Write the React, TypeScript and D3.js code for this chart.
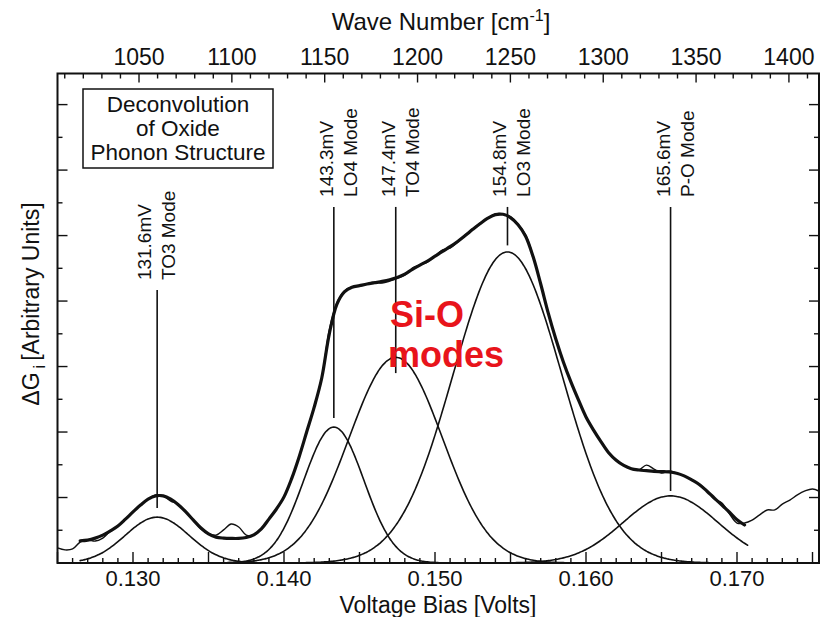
import React from 'react';
import * as d3 from 'd3';

// Measured tunneling conductance, sampled every 0.5 mV starting at 125.0 mV
const measuredStartMv = 125.0;
const sampleStepMv = 0.5;
const measuredG = [
  0.46, 0.40, 0.43, 0.64, 0.70, 0.67, 0.76, 0.98, 1.13, 1.34,
  1.56, 1.77, 1.95, 2.08, 2.05, 1.89, 1.80, 1.56, 1.31, 1.04,
  0.89, 0.85, 1.01, 1.19, 1.10, 0.85, 0.85, 1.04, 1.34, 1.65,
  2.02, 2.57, 3.24, 4.00, 4.76, 5.65, 7.12, 7.94, 8.31, 8.43,
  8.46, 8.52, 8.58, 8.55, 8.61, 8.70, 8.79, 9.01, 9.10, 9.19,
  9.37, 9.56, 9.62, 9.80, 10.02, 10.20, 10.38, 10.53, 10.66, 10.66,
  10.57, 10.35, 10.02, 9.37, 8.52, 7.63, 6.84, 6.14, 5.53, 4.98,
  4.46, 4.06, 3.70, 3.36, 3.15, 2.99, 2.87, 2.84, 2.99, 2.87,
  2.75, 2.81, 2.75, 2.66, 2.53, 2.41, 2.20, 1.95, 1.83, 1.50,
  1.22, 1.22, 1.31, 1.47, 1.62, 1.62, 1.80, 1.92, 2.08, 2.20,
  2.26, 2.18,
];

// Overall fitted envelope, 126.5 mV to 170.5 mV on the same 0.5 mV grid
const envelopeStartMv = 126.5;
const envelopeG = [
  0.68, 0.70, 0.76, 0.85, 0.98, 1.13, 1.34, 1.56, 1.77, 1.95,
  2.05, 2.05, 1.95, 1.78, 1.56, 1.31, 1.07, 0.89, 0.79, 0.76,
  0.75, 0.75, 0.78, 0.86, 1.04, 1.34, 1.65, 2.02, 2.57, 3.24,
  4.00, 4.76, 5.65, 7.00, 7.90, 8.28, 8.42, 8.47, 8.52, 8.56,
  8.60, 8.65, 8.72, 8.82, 8.97, 9.10, 9.22, 9.37, 9.52, 9.66,
  9.82, 10.00, 10.19, 10.37, 10.53, 10.64, 10.65, 10.55, 10.33, 9.98,
  9.35, 8.52, 7.63, 6.84, 6.14, 5.53, 4.98, 4.46, 4.06, 3.70,
  3.37, 3.14, 2.98, 2.88, 2.84, 2.82, 2.80, 2.79, 2.78, 2.74,
  2.66, 2.54, 2.40, 2.20, 1.98, 1.77, 1.55, 1.32, 1.16,
];

// Deconvolved phonon modes (Gaussian components)
const modeCentersMv = [131.6, 143.3, 147.4, 154.8, 165.6];
const modeNames = ['TO3 Mode', 'LO4 Mode', 'TO4 Mode', 'LO3 Mode', 'P-O Mode'];
const modeHeights = [1.40, 4.15, 6.28, 9.50, 2.05];
const modeSigmasMv = [2.1, 2.0, 3.1, 3.6, 3.13];
const modeRangeMv = [126.5, 170.7];

// Axis ticks
const voltTickLabels = [0.130, 0.140, 0.150, 0.160, 0.170];
const waveTickLabels = [1050, 1100, 1150, 1200, 1250, 1300, 1350, 1400];

const W = 823;
const H = 617;
const P = { left: 57.5, right: 819, top: 73.5, bottom: 563 };
const INK = '#111';
const FONT = "'Liberation Sans', Arial, Helvetica, sans-serif";

export default function App() {
  const x = d3.scaleLinear().domain([0.125, 0.17543]).range([P.left, P.right]);
  const xTop = d3.scaleLinear().domain([1006.1, 1416.2]).range([P.left, P.right]);
  const y = d3.scaleLinear().domain([0, 14.95]).range([P.bottom, P.top]);

  const line = d3
    .line<[number, number]>()
    .x((d) => x(d[0] / 1000))
    .y((d) => y(d[1]))
    .curve(d3.curveCatmullRom.alpha(0.5));

  const measuredPts: [number, number][] = measuredG.map((g, i) => [measuredStartMv + i * sampleStepMv, g]);
  const envelopePts: [number, number][] = envelopeG.map((g, i) => [envelopeStartMv + i * sampleStepMv, g]);

  const grid = d3.range(modeRangeMv[0], modeRangeMv[1] + 0.001, 0.1);
  const modePaths = modeCentersMv.map((c, k) =>
    line(
      grid.map((v) => [v, modeHeights[k] * Math.exp(-((v - c) ** 2) / (2 * modeSigmasMv[k] ** 2))] as [number, number])
    )
  );

  // Annotation layout: text bottom and leader end (in G units), label nudge in px
  const labelBottomG = [8.64, 11.18, 11.18, 11.18, 11.18];
  const leaderEndG = [1.68, 4.43, 5.8, 9.7, 2.2];
  const labelNudge = [-5, 0, 0, 0, 0];

  const bottomTicks = d3.range(125, 176, 1).map((m) => m / 1000).filter((v) => v >= 0.125 && v <= 0.1754);
  const topTicks = d3.range(1010, 1420, 10).filter((w) => w <= 1416);
  const sideTicks = d3.range(1, 15);

  return (
    <svg
      width={W}
      height={H}
      style={{ position: 'absolute', left: 0, top: 0, background: '#fff' }}
      fontFamily={FONT}
    >
      <defs>
        <clipPath id="plotClip">
          <rect x={P.left} y={P.top} width={P.right - P.left} height={P.bottom - P.top} />
        </clipPath>
      </defs>
      <rect width={W} height={H} fill="#fff" />

      {/* curves */}
      <g clipPath="url(#plotClip)" fill="none" stroke={INK} strokeLinejoin="round" strokeLinecap="round">
        {modePaths.map((d, k) => (
          <path key={k} d={d || ''} strokeWidth={1.6} />
        ))}
        <path d={line(measuredPts) || ''} strokeWidth={1.4} />
        <path d={line(envelopePts) || ''} strokeWidth={3.2} />
      </g>

      {/* frame */}
      <rect
        x={P.left}
        y={P.top}
        width={P.right - P.left}
        height={P.bottom - P.top}
        fill="none"
        stroke={INK}
        strokeWidth={2}
      />

      {/* bottom ticks */}
      {bottomTicks.map((v, i) => {
        const major = Math.round(v * 1000) % 5 === 0;
        return (
          <line key={'b' + i} x1={x(v)} x2={x(v)} y1={P.bottom} y2={P.bottom - (major ? 11 : 5)} stroke={INK} strokeWidth={1.4} />
        );
      })}
      {voltTickLabels.map((v) => (
        <text key={'bl' + v} x={x(v)} y={586} textAnchor="middle" fontSize={22} fill={INK}>
          {v.toFixed(3)}
        </text>
      ))}
      <text x={438} y={613} textAnchor="middle" fontSize={23} fill={INK}>
        Voltage Bias [Volts]
      </text>

      {/* top ticks */}
      {topTicks.map((w) => {
        const major = w % 50 === 0;
        return (
          <line key={'t' + w} x1={xTop(w)} x2={xTop(w)} y1={P.top} y2={P.top + (major ? 9 : 5)} stroke={INK} strokeWidth={1.4} />
        );
      })}
      {waveTickLabels.map((w) => (
        <text key={'tl' + w} x={xTop(w)} y={65} textAnchor="middle" fontSize={23} fill={INK}>
          {w}
        </text>
      ))}
      <text x={441} y={30} textAnchor="middle" fontSize={24} fill={INK}>
        Wave Number [cm
        <tspan dy={-9} fontSize={16}>-1</tspan>
        <tspan dy={9}>]</tspan>
      </text>

      {/* side ticks */}
      {sideTicks.map((g) => {
        const len = g % 2 === 0 ? 10 : 5;
        return (
          <g key={'s' + g} stroke={INK} strokeWidth={1.4}>
            <line x1={P.left} x2={P.left + len} y1={y(g)} y2={y(g)} />
            <line x1={P.right} x2={P.right - len} y1={y(g)} y2={y(g)} />
          </g>
        );
      })}
      <text transform="translate(39,304) rotate(-90)" textAnchor="middle" fontSize={23} fill={INK}>
        ΔG
        <tspan dy={6} dx={4} fontSize={16}>i</tspan>
        <tspan dy={-6} dx={4}>[Arbitrary Units]</tspan>
      </text>

      {/* title box */}
      <rect x={83} y={89} width={190} height={79} fill="#fff" stroke={INK} strokeWidth={1.5} />
      {['Deconvolution', 'of Oxide', 'Phonon Structure'].map((t, i) => (
        <text key={t} x={178} y={112 + i * 24} textAnchor="middle" fontSize={22.5} fill={INK}>
          {t}
        </text>
      ))}

      {/* mode annotations */}
      {modeCentersMv.map((c, k) => {
        const px = x(c / 1000);
        const tx = px + labelNudge[k];
        const yb = y(labelBottomG[k]);
        return (
          <g key={'m' + k}>
            <line x1={px} x2={px} y1={yb + 10} y2={y(leaderEndG[k])} stroke={INK} strokeWidth={1.6} />
            <text transform={`translate(${tx - 1},${yb}) rotate(-90)`} fontSize={19} fill={INK}>
              {c.toFixed(1)}mV
            </text>
            <text transform={`translate(${tx + 23},${yb}) rotate(-90)`} fontSize={19} fill={INK}>
              {modeNames[k]}
            </text>
          </g>
        );
      })}

      {/* highlight */}
      <text x={390} y={327} fontSize={36} fontWeight="bold" fill="#e8141b">
        Si-O
      </text>
      <text x={388} y={367} fontSize={36} fontWeight="bold" fill="#e8141b">
        modes
      </text>
    </svg>
  );
}
